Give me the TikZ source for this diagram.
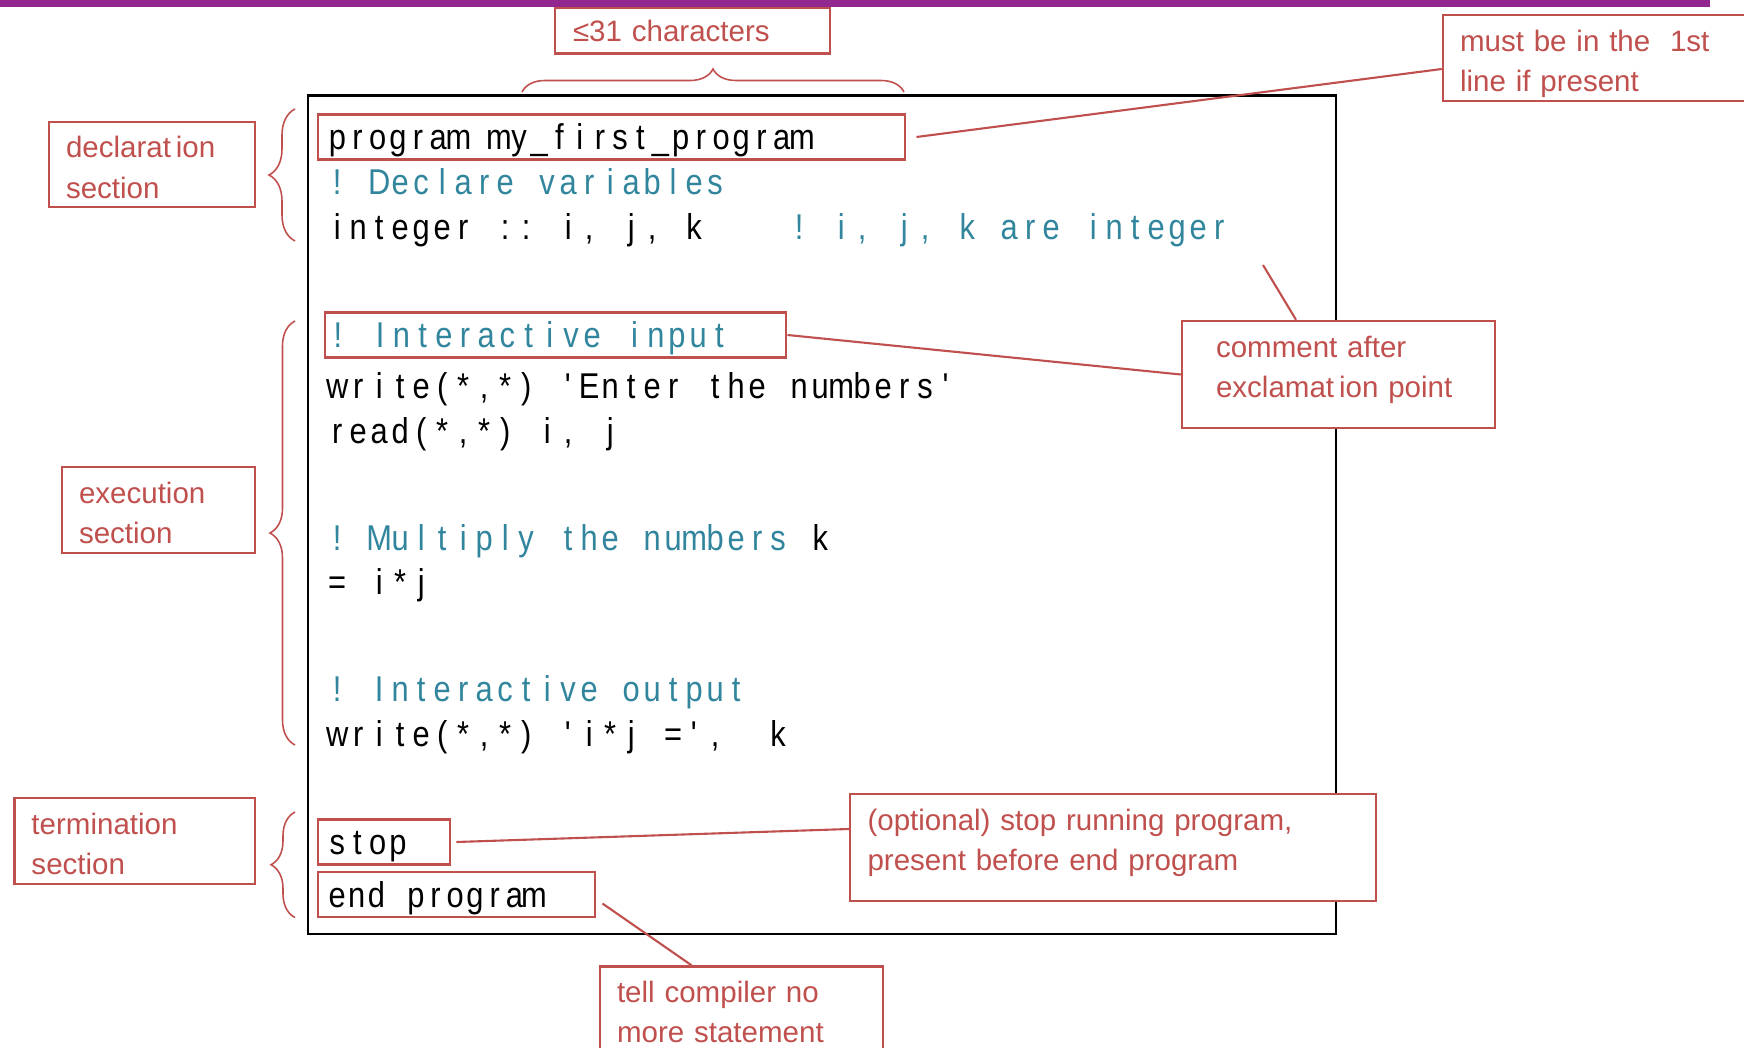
\documentclass[tikz,border=0pt]{standalone}
\usepackage{fontspec}
\usepackage{xcolor}
\usepackage{tikz}
\usetikzlibrary{decorations.pathreplacing}
\setmainfont{Liberation Sans}
\newfontfamily\codefont{Liberation Sans}[Ligatures=NoCommon,FakeStretch=0.86]
\definecolor{labred}{RGB}{192,80,77}
\definecolor{codeteal}{RGB}{49,133,156}
\definecolor{barpurple}{RGB}{146,39,143}
\newcommand{\codetext}{\codefont\fontsize{10.2pt}{11pt}\selectfont}
\newcommand{\labtext}{\fontsize{8.4pt}{11.4pt}\selectfont}
% every character of the listing in a cell of fixed width (~ = one space)
\newlength{\monoadv}
\newcommand{\mono}[1]{\monoloop#1\relax}
\def\monoloop#1{\ifx#1\relax\else\makebox[\monoadv][c]{#1}\expandafter\monoloop\fi}

\begin{document}
\begin{tikzpicture}[
    codeline/.style={anchor=west, inner sep=0pt, font={\codetext\setlength{\monoadv}{0.21cm}}, text height=0.33cm, text depth=0.07cm},
    codebox/.style={draw=labred, line width=0.7pt, anchor=west, inner xsep=0.09cm, inner ysep=0pt, font={\codetext\setlength{\monoadv}{0.202cm}}, text height=0.35cm, text depth=0.10cm, align=left},
    labbox/.style={draw=labred, line width=0.7pt, fill=white, text=labred, font=\labtext, align=left, inner xsep=0.17cm, inner ysep=0.1cm, text height=0.26cm},
    callout/.style={labred, line width=0.6pt},
    sbrace/.style={labred, line width=0.45pt, decorate}
]
\useasboundingbox (0,0) rectangle (17.44,10.47);
\fill[barpurple] (0,10.465) rectangle (17.10,10.40);

% Code listing
\node[draw, line width=0.7pt, minimum width=10.28cm, minimum height=8.384cm, inner sep=0pt] (code) at (8.22,5.322) {};

\node[codebox, text width=5.69cm] (prog) at (3.17,9.10) {\mono{program~my\_first\_program}};
\node[codeline, codeteal] (decl) at (3.26,8.65) {\mono{!~Declare~variables}};
\node[codeline] (intg) at (3.26,8.20) {\mono{integer~::~i,~j,~k}};
\node[codeline, codeteal] (intc) at (7.88,8.20) {\mono{!~i,~j,~k~are~integer}};

\node[codebox, font={\codetext\setlength{\monoadv}{0.212cm}}, inner xsep=0.02cm, text width=4.57cm, text=codeteal] (inp) at (3.24,7.12) {\mono{!~Interactive~input}};
\node[codeline] (wrt1) at (3.26,6.62) {\mono{write(*,*)~\textquotesingle Enter~the~numbers\textquotesingle}};
\node[codeline] (rd) at (3.26,6.17) {\mono{read(*,*)~i,~j}};

\node[codeline, codeteal] (mult) at (3.26,5.10) {\mono{!~Multiply~the~numbers}};
\node[codeline] (multk) at (8.09,5.10) {\mono{k}};
\node[codeline] (eqn) at (3.26,4.66) {\mono{=~i*j}};

\node[codeline, codeteal] (outc) at (3.26,3.59) {\mono{!~Interactive~output}};
\node[codeline] (wrt2) at (3.26,3.14) {\mono{write(*,*)~\textquotesingle i*j~=\textquotesingle,~~k}};

\node[codebox, text width=1.14cm] (stop) at (3.17,2.05) {\mono{stop}};
\node[codebox, font={\codetext\setlength{\monoadv}{0.197cm}}, text width=2.59cm] (endp) at (3.17,1.525) {\mono{end~program}};

% Section labels (left side)
\node[labbox, text width=1.72cm, text depth=0.39cm] (dec) at (1.52,8.825) {declarat\,ion\\section};
\node[labbox, text width=1.59cm, text depth=0.40cm] (exe) at (1.585,5.37) {execution\\section};
\node[labbox, text width=2.065cm, text depth=0.395cm] (ter) at (1.3475,2.06) {termination\\section};

\draw[sbrace, decoration={brace, amplitude=0.26cm}] (2.95,8.06) -- (2.95,9.38);
\draw[sbrace, decoration={brace, amplitude=0.25cm}] (2.95,3.02) -- (2.95,7.26);
\draw[sbrace, decoration={brace, amplitude=0.24cm}] (2.95,1.295) -- (2.95,2.35);

% Notes (top and right side)
\node[labbox, inner xsep=0.18cm, inner ysep=0.08cm, text width=2.39cm, text height=0.26cm, text depth=0.036cm] (chars) at (6.925,10.164) {≤31 characters};
\draw[sbrace, decoration={brace, amplitude=0.23cm}] (5.22,9.55) -- (9.04,9.55);

\node[labbox, text width=2.73cm, text depth=0.395cm] (must) at (15.965,9.89) {must be in the~~1st\\line if present};
\node[labbox, inner xsep=0.34cm, text width=2.45cm, text depth=0.61cm] (cmt) at (13.385,6.725) {comment after\\exclamat\,ion point};
\node[labbox, inner xsep=0.175cm, text width=4.91cm, text depth=0.61cm] (opt) at (11.13,1.995) {(optional) stop running program,\\present before end program};
\node[labbox, text width=2.49cm, text depth=0.61cm] (tell) at (7.415,0.27) {tell compiler no\\more statement};

\coordinate (cmtend) at (12.63,7.82);

\draw[callout] ([xshift=0.1cm]prog.east) -- ([yshift=-0.11cm]must.west);
\draw[callout] (inp.east) -- (cmt.west);
\draw[callout] ([xshift=-0.425cm]cmt.north) -- (cmtend);
\draw[callout] ([xshift=0.05cm]stop.east) -- ([yshift=0.185cm]opt.west);
\draw[callout] ([shift={(0.06cm,-0.09cm)}]endp.east) -- ([xshift=-0.5cm]tell.north);

\end{tikzpicture}
\end{document}
